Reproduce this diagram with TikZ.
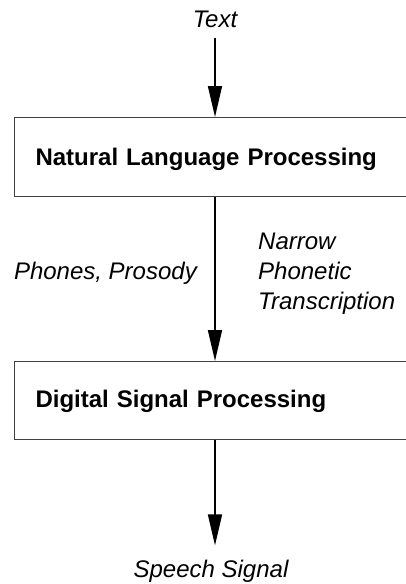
\documentclass[tikz,border=0pt]{standalone}
\usepackage{fontspec}
\setmainfont{Liberation Sans}
\usetikzlibrary{arrows.meta}
\begin{document}
\begin{tikzpicture}[x=1pt,y=-1pt,
  box/.style={draw=black!75, line width=1pt, anchor=north west, inner xsep=21pt, inner ysep=0pt,
    text width=400pt, align=left, font=\fontsize{24}{30}\selectfont\bfseries},
  lbl/.style={font=\fontsize{24}{30}\selectfont\itshape, inner sep=0pt},
  arr/.style={line width=1.6pt, -{Triangle[length=31pt,width=14pt]}}]
\useasboundingbox (0,0) rectangle (406,584);
\clip (0,0) rectangle (406,584);
\node[box, text height=48pt, text depth=31pt] (nlp) at (14,117) {Natural Language Processing};
\node[box, text height=46pt, text depth=32pt] (dsp) at (14,361) {Digital Signal Processing};
\node[lbl, anchor=base] (txt) at (215,27) {Text};
\node[lbl, anchor=base] (sp) at (211,577) {Speech Signal};
\coordinate (spt) at ([yshift=14pt]sp.north);
\node[lbl, anchor=base east] (pp) at (197,279) {Phones, Prosody};
\node[lbl, anchor=north west, align=left] (npt) at (258,233) {Narrow\\Phonetic\\Transcription};
\draw[arr] ([yshift=-11pt]txt.south) -- (txt.south |- nlp.north);
\draw[arr] (txt.south |- nlp.south) -- (txt.south |- dsp.north);
\draw[arr] (txt.south |- dsp.south) -- (txt.south |- spt);
\end{tikzpicture}
\end{document}
